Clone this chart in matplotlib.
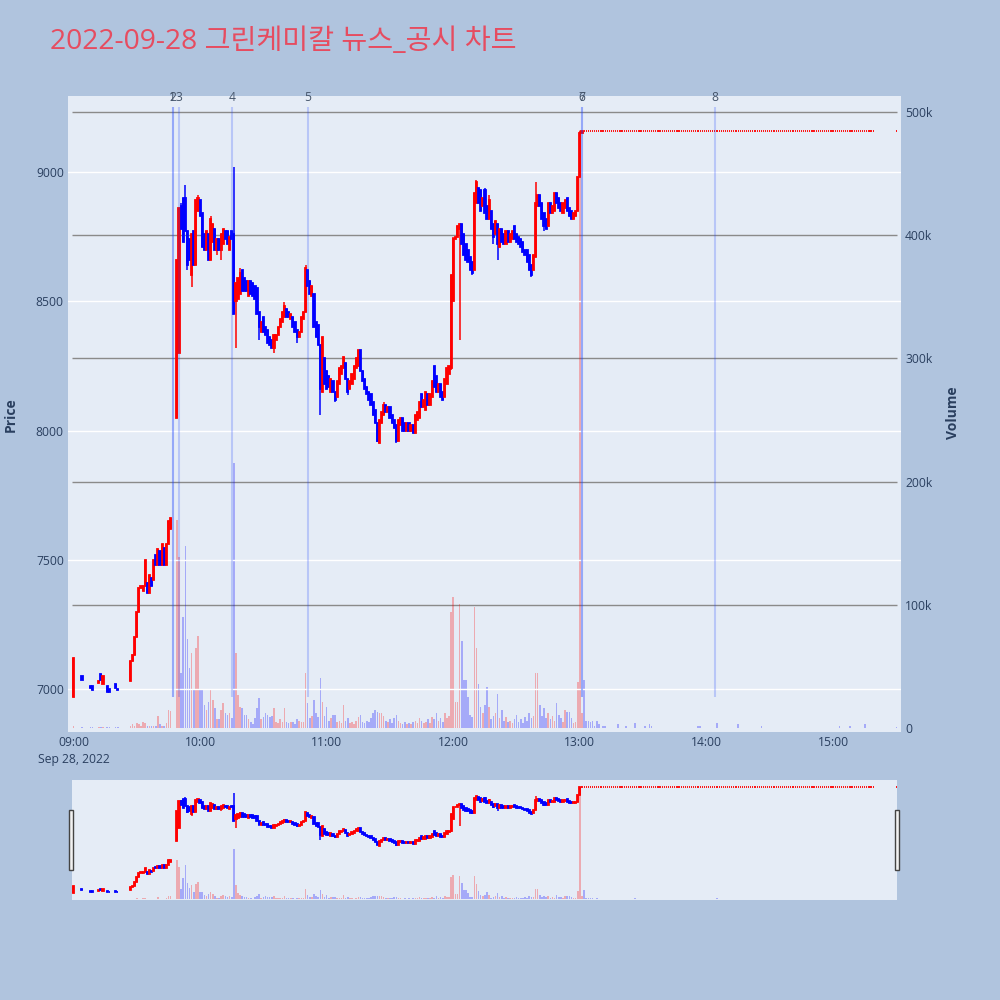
import matplotlib.pyplot as plt
from matplotlib.patches import Rectangle

plt.rcParams['font.family'] = ['Open Sans', 'Noto Sans CJK KR', 'DejaVu Sans']

title = "2022-09-28 그린케미칼 뉴스_공시 차트"

# minutes after 09:00 -- sparse trades in the first half hour
early_min = [0, 4, 8, 9, 12, 13, 14, 16, 17, 20, 21]
early_open = [6970, 7050, 7010, 7010, 7025, 7060, 7020, 7010, 7000, 7020, 7000]
early_close = [7120, 7035, 7005, 6995, 7030, 7035, 7050, 6990, 6990, 7005, 6995]
early_vol = [2, 1, 1, 1, 0.5, 1, 1, 1, 1, 1, 0.5]  # thousand shares

# continuous 1-minute candles from 09:27 (m=27) to 13:01 (m=241); None = halted
main_start = 27
main_open = [
    7030, 7110, 7130, 7200, 7300, 7390, 7380, 7400, 7410, 7370,
    7430, 7420, 7520, 7480, 7535, 7480, 7545, 7480, 7560, 7620,
    None, None, 8050, 8300, 8870, 8900, 8900, 8770, 8740, 8600,
    8770, 8640, 8850, 8890, 8840, 8760, 8700, 8760, 8660, 8730,
    8780, 8700, 8740, 8700, 8720, 8770, 8770, 8700, 8770, 8760,
    8500, 8510, 8530, 8620, 8590, 8580, 8520, 8580, 8570, 8560,
    8550, 8460, 8380, 8440, 8400, 8390, 8360, 8350, 8320, 8350,
    8370, 8400, 8420, 8440, 8470, 8460, 8430, 8440, 8420, 8390,
    8360, 8380, 8430, 8460, 8620, 8580, 8520, 8530, 8420, 8410,
    8330, 8150, 8280, 8230, 8210, 8150, 8190, 8150, 8130, 8180,
    8220, 8240, 8260, 8200, 8160, 8180, 8200, 8240, 8250, 8310,
    8230, 8200, 8170, 8150, 8140, 8110, 8080, 8030, 7950, 8030,
    8060, 8100, 8070, 8090, 8060, 8040, 8020, 7960, 8020, 8050,
    8030, 8000, 8030, 8000, 8020, 7990, 8040, 8050, 8140, 8090,
    8080, 8140, 8100, 8130, 8250, 8210, 8150, 8180, 8150, 8130,
    8180, 8220, 8240, 8500, 8740, 8750, 8780, 8800, 8760, 8720,
    8700, 8670, 8650, 8620, 8880, 8940, 8930, 8870, 8930, 8870,
    8820, 8850, 8800, 8760, 8800, 8710, 8780, 8760, 8720, 8770,
    8730, 8740, 8790, 8760, 8750, 8740, 8730, 8700, 8700, 8680,
    8640, 8620, 8670, 8870, 8910, 8880, 8840, 8820, 8790, 8880,
    8840, 8850, 8920, 8900, 8880, 8840, 8860, 8900, 8860, 8850,
    8820, 8830, 8850, 8980, 9150,
]
main_close = [
    7110, 7130, 7200, 7300, 7390, 7400, 7400, 7500, 7370, 7440,
    7400, 7500, 7480, 7540, 7480, 7560, 7480, 7560, 7650, 7660,
    None, None, 8660, 8860, 8780, 8730, 8770, 8640, 8660, 8760,
    8640, 8890, 8900, 8830, 8710, 8700, 8770, 8660, 8820, 8800,
    8700, 8740, 8700, 8760, 8780, 8740, 8720, 8750, 8740, 8450,
    8570, 8590, 8610, 8540, 8540, 8540, 8580, 8530, 8520, 8510,
    8450, 8400, 8420, 8380, 8370, 8340, 8330, 8320, 8370, 8370,
    8400, 8430, 8460, 8480, 8440, 8440, 8450, 8400, 8380, 8360,
    8380, 8440, 8460, 8630, 8560, 8530, 8560, 8400, 8360, 8330,
    8160, 8360, 8180, 8160, 8170, 8200, 8150, 8120, 8190, 8240,
    8250, 8285, 8200, 8150, 8190, 8220, 8250, 8280, 8310, 8230,
    8190, 8160, 8140, 8120, 8100, 8060, 8030, 7960, 8040, 8070,
    8100, 8070, 8090, 8050, 8030, 8010, 7960, 8040, 8050, 8000,
    8000, 8030, 8000, 8020, 7990, 8060, 8070, 8110, 8090, 8120,
    8150, 8100, 8140, 8190, 8170, 8150, 8180, 8130, 8120, 8200,
    8240, 8250, 8600, 8740, 8750, 8790, 8800, 8720, 8680, 8660,
    8650, 8620, 8610, 8920, 8960, 8880, 8850, 8900, 8840, 8820,
    8890, 8780, 8750, 8810, 8720, 8780, 8730, 8720, 8770, 8730,
    8760, 8770, 8740, 8730, 8720, 8710, 8690, 8680, 8650, 8620,
    8600, 8680, 8880, 8910, 8870, 8820, 8790, 8780, 8880, 8840,
    8870, 8920, 8880, 8860, 8850, 8880, 8890, 8850, 8830, 8820,
    8840, 8850, 8980, 9150, 9160,
]
main_vol = [
    2, 3, 2, 4, 3, 2, 5, 4, 2, 2,
    2, 2, 2, 10, 3, 2, 2, 4, 15, 14,
    None, None, 169, 139, 45, 90, 148, 72, 49, 61,
    31, 65, 75, 31, 32, 19, 15, 21, 31, 23,
    16, 7, 7, 15, 20, 12, 11, 12, 8, 215,
    61, 27, 17, 16, 11, 11, 7, 5, 3, 8,
    16, 24, 7, 9, 12, 11, 9, 10, 16, 5,
    4, 7, 5, 16, 5, 4, 5, 5, 3, 7,
    6, 5, 5, 45, 20, 8, 10, 23, 12, 9,
    41, 21, 10, 17, 6, 8, 11, 11, 5, 6,
    4, 19, 6, 8, 4, 5, 3, 6, 9, 11,
    5, 4, 6, 5, 8, 12, 15, 13, 12, 12,
    10, 6, 5, 7, 4, 8, 11, 6, 4, 3,
    5, 3, 4, 3, 5, 6, 4, 8, 6, 4,
    5, 7, 4, 9, 7, 12, 6, 8, 5, 12,
    8, 10, 94, 106, 21, 21, 101, 71, 39, 39,
    25, 11, 9, 98, 65, 36, 17, 12, 19, 33,
    17, 7, 10, 12, 28, 8, 15, 6, 9, 5,
    6, 4, 7, 11, 5, 7, 4, 9, 6, 12,
    8, 10, 45, 45, 19, 10, 16, 8, 12, 7,
    10, 6, 20, 11, 8, 5, 15, 13, 13, 8,
    4, 5, 37, 485, 12,
]
wick_high = {51: 8880, 53: 8950, 59: 8910, 65: 8830, 76: 9020, 79: 8630,
             100: 8497, 110: 8640, 147: 8110, 180: 8750, 191: 8970,
             195: 8940, 197: 8910, 219: 8960, 240: 9160}
wick_low = {54: 8620, 56: 8555, 68: 8680, 70: 8660, 77: 8320, 88: 8350,
            95: 8300, 106: 8340, 117: 8060, 124: 8110, 130: 8138, 144: 7955,
            153: 7950, 179: 8235, 183: 8350, 189: 8600, 199: 8720, 201: 8660,
            217: 8595, 223: 8770}

# upper-limit price held for the rest of the session
flat_price = 9160
flat_minutes = list(range(242, 380)) + [390]
late_vol = {242: 39, 243: 6, 244: 6, 245: 5, 246: 6, 247: 2, 248: 6, 249: 3,
            251: 2, 252: 2, 258: 3, 262: 1.5, 266: 4, 271: 2, 273: 3, 274: 2,
            296: 2, 297: 2, 305: 4, 315: 3, 326: 1.5, 363: 1.5, 368: 2,
            375: 3, 390: 1}

news_labels = ["1", "2", "3", "4", "5", "6", "7", "8"]
news_times = ["09:47", "09:47", "09:50", "10:15", "10:51", "13:01", "13:01", "14:04"]

price_ticks = [7000, 7500, 8000, 8500, 9000]
vol_ticks = [0, 100, 200, 300, 400, 500]
time_ticks = ["09:00", "10:00", "11:00", "12:00", "13:00", "14:00", "15:00"]


def to_min(t):
    h, m = t.split(":")
    return (int(h) - 9) * 60 + int(m)


# build candle table
xs, op, cl, hi, lo, vol = [], [], [], [], [], []
for m, o, c, v in zip(early_min, early_open, early_close, early_vol):
    xs.append(m); op.append(o); cl.append(c); vol.append(v)
for i, (o, c, v) in enumerate(zip(main_open, main_close, main_vol)):
    if o is None:
        continue
    xs.append(main_start + i); op.append(o); cl.append(c); vol.append(v)
for m in flat_minutes:
    xs.append(m); op.append(flat_price); cl.append(flat_price)
    vol.append(late_vol.get(m, 0.3))
for m, o, c in zip(xs, op, cl):
    hi.append(wick_high.get(m, max(o, c)))
    lo.append(wick_low.get(m, min(o, c)))

col = ['red' if c >= o else 'blue' for o, c in zip(op, cl)]
vcol = ['red' if c > o else 'blue' for o, c in zip(op, cl)]
body = [c - o for o, c in zip(op, cl)]

BG = '#E5ECF6'
PAPER = '#B0C4DE'
TXT = '#2a3f5f'
p_lim = (6834, 9294)
v_lim = (-3.2, 513)


def draw(axp, axv):
    axv.bar(xs, vol, width=0.75, color=vcol, alpha=0.28, lw=0)
    axp.vlines(xs, lo, hi, colors=col, lw=1.1, zorder=3)
    axp.bar(xs, body, bottom=op, width=0.55, color=col, edgecolor=col,
            lw=1.3, zorder=3)
    axp.set_ylim(*p_lim)
    axv.set_ylim(*v_lim)
    for a in (axp, axv):
        for s in a.spines.values():
            s.set_visible(False)


fig = plt.figure(figsize=(10, 10), dpi=100, facecolor=PAPER)

# main panel: volume underneath, price on top
ax_v = fig.add_axes([0.068, 0.268, 0.833, 0.636], facecolor=BG)
ax_p = ax_v.twinx()
ax_p.patch.set_visible(False)
ax_p.set_axisbelow(True)
draw(ax_p, ax_v)
ax_v.set_xlim(-2.6, 392.2)

ax_v.hlines(vol_ticks[1:], -0.7, 390.3, color='#8a8a8a', lw=1.0, zorder=0)
ax_p.grid(axis='y', color='white', lw=1.0)
ax_p.grid(axis='x', visible=False)

ax_v.yaxis.tick_right()
ax_v.set_yticks(vol_ticks)
ax_v.set_yticklabels(['0'] + [f'{v}k' for v in vol_ticks[1:]])
ax_p.yaxis.tick_left()
ax_p.set_yticks(price_ticks)
ax_p.set_yticklabels([str(p) for p in price_ticks])

tick_pos = [to_min(t) for t in time_ticks]
tick_lab = [t for t in time_ticks]
tick_lab[0] = "09:00\nSep 28, 2022"
ax_v.set_xticks(tick_pos)
ax_v.set_xticklabels(tick_lab, linespacing=1.35)
for a in (ax_v, ax_p):
    a.tick_params(length=0, pad=3, labelsize=8.7, labelcolor=TXT)

# news markers
news_x = [to_min(t) for t in news_times]
ax_p.vlines(news_x, min(lo), max(hi) * 1.01, colors=(0.1, 0.25, 1.0, 0.22),
            lw=1.5, zorder=4)
for x, lab in zip(news_x, news_labels):
    ax_p.text(x, 0.997, lab, transform=ax_p.get_xaxis_transform(),
              ha='center', va='center', fontsize=8.7, color='#44546a')

fig.text(0.011, 0.585, 'Price', rotation=90, ha='center', va='center',
         fontsize=10, fontweight='bold', color=TXT)
fig.text(0.953, 0.587, 'Volume', rotation=90, ha='center', va='center',
         fontsize=10, fontweight='bold', color=TXT)
fig.text(0.05, 0.958, title, ha='left', va='center', fontsize=20.3,
         color='#E64C60')

# range slider
sl_v = fig.add_axes([0.072, 0.100, 0.825, 0.120], facecolor=BG)
sl_p = sl_v.twinx()
sl_p.patch.set_visible(False)
draw(sl_p, sl_v)
sl_v.set_xlim(-0.7, 390.3)
for a in (sl_v, sl_p):
    a.set_xticks([]); a.set_yticks([])
for hx in (0.069, 0.895):
    fig.patches.append(Rectangle((hx, 0.130), 0.004, 0.060,
                                 transform=fig.transFigure, facecolor='#f2f2f2',
                                 edgecolor='#444444', lw=1.0))

fig.savefig('out.png', dpi=100, facecolor=PAPER)
